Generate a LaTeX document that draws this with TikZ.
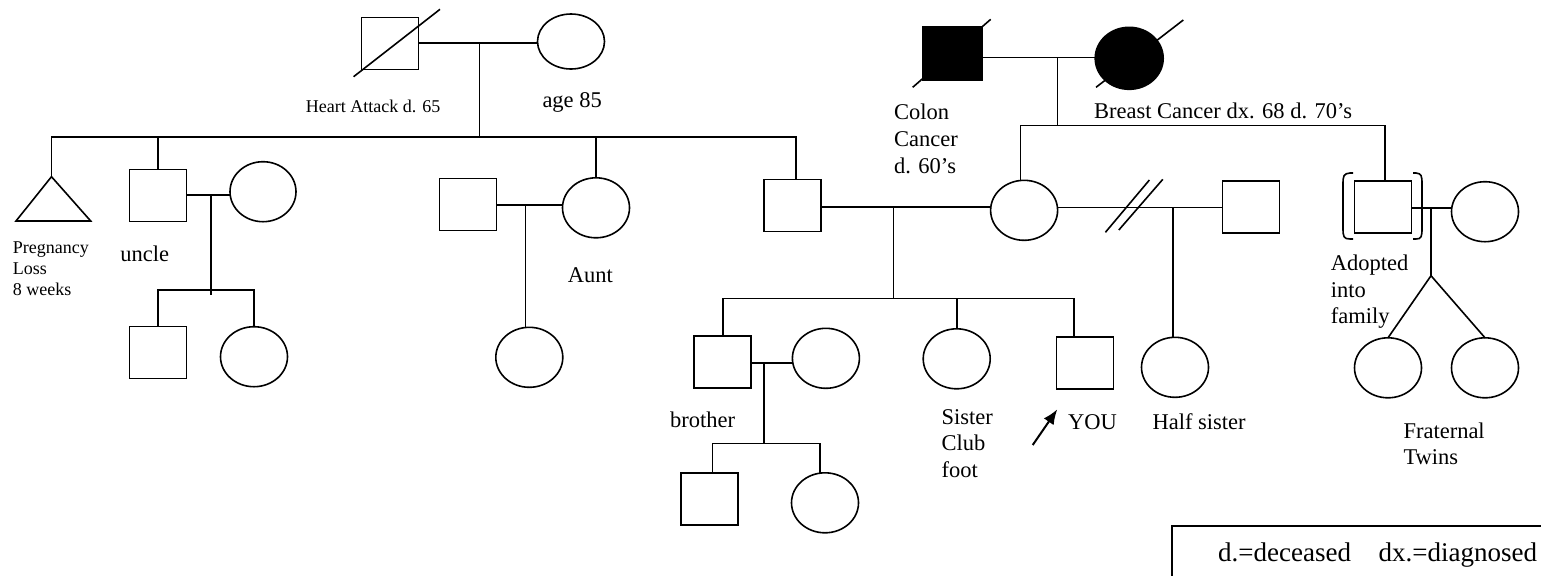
\documentclass[tikz,border=0pt]{standalone}
\usepackage{fontspec}
\setmainfont{Liberation Serif}
\usetikzlibrary{shapes.geometric,arrows.meta}

\begin{document}
\begin{tikzpicture}[x=0.5pt,y=-0.5pt,line width=0.8pt,
  male/.style={draw,rectangle,minimum width=28.5pt,minimum height=26pt,inner sep=0pt,outer sep=0pt},
  female/.style={draw,ellipse,minimum width=33.5pt,minimum height=30pt,inner sep=0pt,outer sep=0pt},
  lbl/.style={anchor=north west,inner sep=0pt,align=left,
    font=\fontsize{11.25pt}{13.35pt}\selectfont,execute at begin node=\strut},
  smalllbl/.style={lbl,font=\fontsize{9pt}{10.5pt}\selectfont},
  keylbl/.style={lbl,font=\fontsize{13.5pt}{15.5pt}\selectfont}]

\useasboundingbox (0,0) rectangle (1541,575);
\clip (0,0) rectangle (1541,575);

% ---------- paternal grandparents ----------
\node[male] (hgf) at (390,43.3) {};
\draw (353.6,76.7) -- (440,9.3);
\node[female,minimum width=33.5pt,minimum height=27.5pt] (hgm) at (571,41.5) {};
\coordinate (pd0) at (479.6,42.7);
\draw (hgf.east |- pd0) -- (hgm.west |- pd0);
\coordinate (s1) at (479.6,136.7);
\draw (pd0) -- (s1);

% ---------- paternal generation ----------
\coordinate (tritop) at (51.5,176.7);
\draw (tritop) -- (90.7,221) -- (16,221) -- cycle;
\node[male] (uncle) at (158,195.5) {};
\node[female,minimum width=33pt] (uwife) at (263,191.7) {};
\node[male] (ahus) at (468,204.5) {};
\node[female] (aunt) at (596,207.8) {};
\node[male] (fath) at (792.4,205.3) {};
\coordinate (s1R) at (796.2,136.7);
\draw (tritop) |- (s1) -- (s1R) -- (s1R |- fath.north);
\draw (uncle.north) -- (uncle.north |- s1);
\draw (aunt.north) -- (aunt.north |- s1);

% uncle's family
\coordinate (pd6) at (210.7,195);
\draw (uncle.east |- pd6) -- (uwife.west |- pd6);
\coordinate (s6) at (210.7,290);
\draw (pd6) -- ([yshift=-2.5pt]s6);
\node[male] (cous1) at (158,352.3) {};
\node[female] (cous2) at (254,356.7) {};
\draw (cous1.north) |- (s6) -| (cous2.north);

% aunt's family
\coordinate (pd7) at (525.6,205);
\draw (ahus.east |- pd7) -- (aunt.west |- pd7);
\node[female] (achild) at (529.3,357.3) {};
\draw (pd7) -- (pd7 |- achild.north);

% ---------- maternal grandparents ----------
\node[male,fill=black,minimum width=29.5pt,minimum height=26.5pt] (bgf) at (952.2,53.3) {};
\draw (912.7,87.3) -- (990.7,19.3);
\node[female,fill=black,minimum width=34pt,minimum height=31pt] (bgm) at (1129.2,58.3) {};
\draw (1096,87.3) -- (1183.3,20);
\coordinate (bpd) at (1057.3,57.3);
\draw (bgf.east |- bpd) -- (bgm.west |- bpd);
\coordinate (bsib) at (1057.3,125.3);
\draw (bpd) -- (bsib);

\node[female] (mom) at (1024.1,210.3) {};
\node[male] (adop) at (1383,207) {};
\draw ([xshift=-1.8pt]mom.north) |- (bsib) -| ([xshift=1pt]adop.north);

% adoption brackets
\draw (1353,173) -- (1350,173) .. controls (1343.5,173.5) and (1343,176) .. (1343,184)
      -- (1343,228) .. controls (1343,236.5) and (1343.5,239) .. (1350,239) -- (1353,239);
\draw (1413,173) -- (1416,173) .. controls (1421.5,173.5) and (1422,176) .. (1422,184)
      -- (1422,228) .. controls (1422,236.5) and (1421.5,239) .. (1416,239) -- (1413,239);

% ---------- parents ----------
\coordinate (pd2) at (893.4,206.7);
\draw (fath.east |- pd2) -- (mom.west |- pd2);
\coordinate (s2) at (893.4,298.3);
\draw (pd2) -- (s2);

\node[male] (hsf) at (1250.8,207) {};
\coordinate (pd3) at (1173.2,207.3);
\draw (mom.east |- pd3) -- (hsf.west |- pd3);
\draw (1105.4,232.3) -- (1149.4,180);
\draw (1118.8,230) -- (1162.8,179.3);
\node[female] (hsis) at (1175,367.3) {};
\draw (pd3) -- (pd3 |- hsis.north);

% ---------- siblings ----------
\node[male] (bro) at (722.7,362.2) {};
\node[female] (bwife) at (825.9,358.3) {};
\node[female] (sis) at (956.7,358.8) {};
\node[male] (you) at (1085.1,363) {};
\draw (bro.north) |- (s2) -| ([xshift=-5.5pt]you.north);
\draw (sis.north) -- (sis.north |- s2);

% brother's family
\coordinate (pd5) at (763.7,362.7);
\draw (bro.east |- pd5) -- (bwife.west |- pd5);
\coordinate (s5) at (763.7,443.3);
\draw (pd5) -- (s5);
\node[male] (neph) at (709.3,498.7) {};
\node[female] (niece) at (825,502.8) {};
\draw ([xshift=1.5pt]neph.north) |- (s5) -| ([xshift=-2.5pt]niece.north);

% ---------- mother's adopted brother ----------
\node[female] (awife) at (1485,211.7) {};
\coordinate (pd4) at (1431,207.7);
\draw (adop.east |- pd4) -- (awife.west |- pd4);
\coordinate (tw) at (1431,275.7);
\draw (pd4) -- (tw);
\node[female] (twin1) at (1388,367.8) {};
\node[female] (twin2) at (1485,367.8) {};
\draw (twin1.north) -- (tw) -- (twin2.north);

% proband arrow
\coordinate (arrtail) at (1032.7,445);
\coordinate (arrtip) at (1057.3,409.3);
\draw[line width=1pt,-{Latex[length=7.5pt,width=6pt]}] (arrtail) -- (arrtip);

% ---------- labels ----------
\node[smalllbl] (lhgf) at (305,97.3) {Heart Attack d. 65};
\node[lbl] (lhgm) at (541.7,88.3) {age 85};
\node[smalllbl] (ltri) at (12,241.3) {Pregnancy\\Loss\\8 weeks};
\node[lbl] (luncle) at (119.5,241.6) {uncle};
\node[lbl] (launt) at (567,263.3) {Aunt};
\node[lbl] (lbgf) at (893.3,103.3) {Colon\\Cancer\\d. 60's};
\node[lbl] (lbgm) at (1093.3,99.3) {Breast Cancer dx. 68 d. 70's};
\node[lbl] (ladop) at (1330,254) {Adopted\\into\\family};
\node[lbl] (lbro) at (669.3,407.6) {brother};
\node[lbl] (lsis) at (940.7,408.3) {Sister\\Club\\foot};
\node[lbl] (lyou) at (1067.3,410) {YOU};
\node[lbl] (lhsis) at (1151.7,410) {Half sister};
\node[lbl] (ltwins) at (1402.7,421.6) {Fraternal\\Twins};

% key
\node[draw,anchor=north west,inner sep=0pt,outer sep=0pt,minimum width=200pt,minimum height=40pt] (keybox) at (1172,526) {};
\node[keylbl] (keytext) at (1217.3,538.5) {d.=deceased\hspace{13.8pt}dx.=diagnosed};
\end{tikzpicture}
\end{document}
